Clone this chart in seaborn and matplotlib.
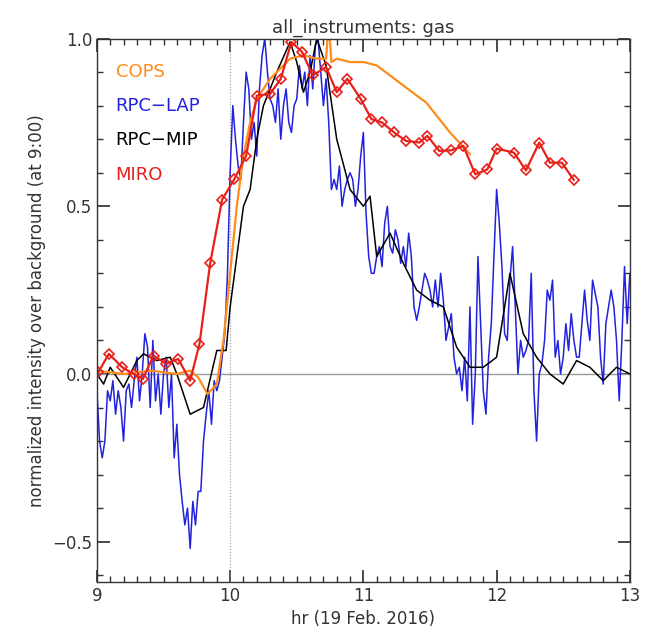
import matplotlib
matplotlib.use("Agg")
import matplotlib.pyplot as plt
import seaborn as sns
import numpy as np
from matplotlib.ticker import MultipleLocator

miro_t = [9.01,9.09,9.19,9.275,9.345,9.425,9.52,9.61,9.70,9.77,9.85,9.94,10.03,10.12,10.2,10.3,10.38,10.46,10.54,10.62,10.72,10.8,10.88,10.98,11.06,11.14,11.23,11.32,11.42,11.48,11.57,11.66,11.75,11.84,11.93,12.0,12.13,12.22,12.32,12.40,12.49,12.58]
miro_v = [0.005,0.06,0.02,0.0,-0.015,0.055,0.03,0.045,-0.02,0.09,0.33,0.52,0.58,0.65,0.83,0.835,0.88,0.99,0.96,0.89,0.915,0.84,0.88,0.82,0.76,0.75,0.72,0.695,0.69,0.71,0.665,0.667,0.68,0.595,0.61,0.672,0.66,0.607,0.69,0.63,0.63,0.578]

cops_t = [9.0,9.2,9.4,9.6,9.7,9.76,9.83,9.9,9.95,10.0,10.05,10.1,10.15,10.2,10.3,10.4,10.45,10.55,10.65,10.72,10.74,10.76,10.8,10.9,11.0,11.1,11.2,11.3,11.4,11.47,11.55,11.65,11.72,11.8]
cops_v = [0.01,0.0,0.01,0.0,0.01,-0.01,-0.06,-0.03,0.1,0.3,0.5,0.65,0.75,0.82,0.88,0.92,0.94,0.95,0.94,0.94,1.05,0.93,0.94,0.93,0.93,0.92,0.89,0.86,0.83,0.81,0.77,0.72,0.69,0.655]

mip_t = [9.0,9.05,9.1,9.2,9.3,9.35,9.45,9.55,9.6,9.7,9.8,9.9,9.97,10.0,10.05,10.1,10.15,10.2,10.25,10.3,10.35,10.45,10.5,10.55,10.6,10.65,10.72,10.8,10.9,11.0,11.05,11.1,11.2,11.3,11.4,11.5,11.6,11.7,11.8,11.9,12.0,12.1,12.2,12.3,12.4,12.5,12.6,12.7,12.8,12.9,13.0]
mip_v = [0.0,-0.03,0.02,-0.04,0.04,0.06,0.04,0.05,0.0,-0.12,-0.1,0.07,0.07,0.2,0.35,0.5,0.55,0.7,0.8,0.85,0.9,0.99,0.93,0.84,0.9,1.0,0.92,0.7,0.55,0.5,0.53,0.35,0.42,0.33,0.25,0.22,0.2,0.08,0.02,0.02,0.05,0.3,0.12,0.05,0.0,-0.03,0.04,0.02,-0.02,0.02,0.0]

lap_t = [9.0,9.02,9.04,9.06,9.08,9.1,9.12,9.14,9.16,9.18,9.2,9.22,9.24,9.26,9.28,9.3,9.32,9.34,9.36,9.38,9.4,9.42,9.44,9.46,9.48,9.5,9.52,9.54,9.56,9.58,9.6,9.62,9.64,9.66,9.68,9.7,9.72,9.74,9.76,9.78,9.8,9.82,9.84,9.86,9.88,9.9,9.92,9.94,9.96,9.98,10.0,10.02,10.04,10.06,10.08,10.1,10.12,10.14,10.16,10.18,10.2,10.22,10.24,10.26,10.28,10.3,10.32,10.34,10.36,10.38,10.4,10.42,10.44,10.46,10.48,10.5,10.52,10.54,10.56,10.58,10.6,10.62,10.64,10.66,10.68,10.7,10.72,10.74,10.76,10.78,10.8,10.82,10.84,10.86,10.88,10.9,10.92,10.94,10.96,10.98,11.0,11.02,11.04,11.06,11.08,11.1,11.12,11.14,11.16,11.18,11.2,11.22,11.24,11.26,11.28,11.3,11.32,11.34,11.36,11.38,11.4,11.42,11.44,11.46,11.48,11.5,11.52,11.54,11.56,11.58,11.6,11.62,11.64,11.66,11.68,11.7,11.72,11.74,11.76,11.78,11.8,11.82,11.84,11.86,11.88,11.9,11.92,11.94,11.96,11.98,12.0,12.02,12.04,12.06,12.08,12.1,12.12,12.14,12.16,12.18,12.2,12.22,12.24,12.26,12.28,12.3,12.32,12.34,12.36,12.38,12.4,12.42,12.44,12.46,12.48,12.5,12.52,12.54,12.56,12.58,12.6,12.62,12.64,12.66,12.68,12.7,12.72,12.74,12.76,12.78,12.8,12.82,12.84,12.86,12.88,12.9,12.92,12.94,12.96,12.98,13.0]
lap_v = [-0.05,-0.2,-0.25,-0.2,-0.05,-0.08,-0.02,-0.12,-0.05,-0.1,
         -0.2,-0.05,-0.03,-0.1,-0.02,0.05,-0.08,0.0,0.12,0.08,
         -0.1,0.1,-0.08,0.0,-0.12,0.0,0.05,-0.1,0.0,-0.25,
         -0.15,-0.3,-0.38,-0.45,-0.4,-0.52,-0.38,-0.45,-0.35,-0.35,
         -0.2,-0.12,-0.05,-0.15,-0.02,-0.05,-0.02,0.05,0.12,0.3,
         0.6,0.8,0.7,0.62,0.58,0.75,0.9,0.85,0.7,0.75,
         0.65,0.85,0.95,1.0,0.9,0.82,0.8,0.75,0.85,0.7,
         0.8,0.85,0.75,0.72,0.8,0.82,0.92,0.85,0.9,0.8,
         0.95,0.85,0.98,1.0,0.9,0.8,0.88,0.75,0.55,0.58,
         0.55,0.62,0.5,0.55,0.58,0.6,0.58,0.5,0.55,0.65,
         0.72,0.48,0.35,0.3,0.3,0.35,0.38,0.32,0.45,0.5,
         0.38,0.36,0.43,0.4,0.33,0.38,0.32,0.42,0.35,0.2,
         0.16,0.2,0.25,0.3,0.28,0.25,0.2,0.28,0.2,0.3,
         0.22,0.1,0.14,0.18,0.05,0.0,0.02,-0.05,0.05,-0.08,
         0.2,-0.15,0.0,0.35,0.15,-0.05,-0.12,0.05,0.15,0.35,
         0.55,0.45,0.32,0.12,0.1,0.28,0.38,0.2,0.0,0.1,
         0.05,0.07,0.1,0.3,-0.05,-0.2,0.0,0.03,0.1,0.25,
         0.22,0.28,0.05,0.1,0.0,0.05,0.15,0.07,0.18,0.1,
         0.05,0.05,0.15,0.25,0.16,0.1,0.28,0.24,0.2,0.05,
         -0.03,0.15,0.2,0.25,0.2,0.1,-0.08,0.1,0.32,0.15,
         0.3]

sns.set_theme(style="white")
plt.rcParams['font.family'] = ['DejaVu Sans']
fig, ax = plt.subplots(figsize=(6.46, 6.43), dpi=100)
fig.subplots_adjust(left=0.15, right=0.975, top=0.94, bottom=0.095)

ax.axhline(0, color="#999999", lw=1)
ax.axvline(10, color="#999999", lw=0.8, ls=":")
sns.lineplot(x=lap_t, y=lap_v, color="#2222dd", lw=1.1, ax=ax, estimator=None, sort=False)
sns.lineplot(x=mip_t, y=mip_v, color="black", lw=1.1, ax=ax, estimator=None, sort=False)
sns.lineplot(x=cops_t, y=cops_v, color="#ff8c1a", lw=1.6, ax=ax, estimator=None, sort=False)
sns.lineplot(x=miro_t, y=miro_v, color="#e8201a", lw=1.6, ax=ax, estimator=None, sort=False,
             marker="D", markersize=5, markerfacecolor="none", markeredgecolor="#e8201a", markeredgewidth=1.2)

ax.set_xlim(9, 13)
ax.set_ylim(-0.62, 1.0)
ax.set_xticks([9, 10, 11, 12, 13])
ax.set_yticks([-0.5, 0.0, 0.5, 1.0])
ax.set_yticklabels(["−0.5", "0.0", "0.5", "1.0"])
ax.xaxis.set_minor_locator(MultipleLocator(0.1))
ax.yaxis.set_minor_locator(MultipleLocator(0.1))
ax.tick_params(which="both", direction="in", top=True, right=True, bottom=True, left=True, colors="#333333", labelsize=12)
ax.tick_params(which="major", length=9)
ax.tick_params(which="minor", length=4)
for s in ax.spines.values():
    s.set_color("#333333")
    s.set_linewidth(1)
ax.set_xlabel("hr (19 Feb. 2016)", fontsize=12, color="#333333")
ax.set_ylabel("normalized intensity over background (at 9:00)", fontsize=12, color="#333333")
ax.set_title("all_instruments: gas", fontsize=13, color="#333333", pad=4)

for i, (lab, c) in enumerate([("COPS", "#ff8c1a"), ("RPC−LAP", "#2222dd"), ("RPC−MIP", "black"), ("MIRO", "#e8201a")]):
    ax.text(0.035, 0.955 - i * 0.063, lab, color=c, fontsize=13, transform=ax.transAxes, va="top")

fig.savefig("out.png")
